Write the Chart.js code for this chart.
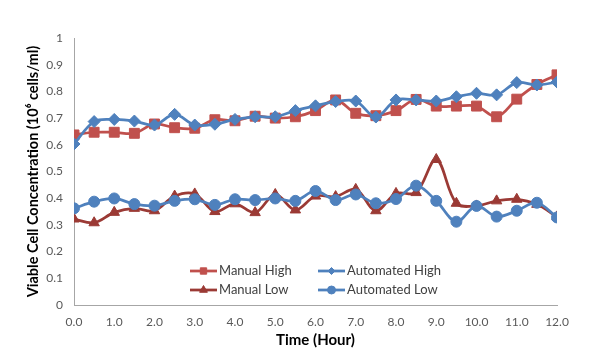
<!DOCTYPE html>
<html>
<head>
<meta charset="utf-8">
<script src="https://cdn.jsdelivr.net/npm/chart.js@4/dist/chart.umd.min.js"></script>
<style>
html,body{margin:0;padding:0;background:#fff;}
#wrap{width:590px;height:359px;}
</style>
</head>
<body>
<div id="wrap"><canvas id="c" width="590" height="359"></canvas></div>
<script>
const times = [0,0.5,1,1.5,2,2.5,3,3.5,4,4.5,5,5.5,6,6.5,7,7.5,8,8.5,9,9.5,10,10.5,11,11.5,12];
const manualHigh = [0.637,0.647,0.647,0.643,0.678,0.664,0.662,0.694,0.690,0.707,0.700,0.705,0.728,0.768,0.718,0.709,0.728,0.770,0.745,0.745,0.745,0.705,0.771,0.826,0.862];
const automatedHigh = [0.603,0.687,0.695,0.689,0.674,0.714,0.674,0.677,0.695,0.705,0.705,0.728,0.746,0.762,0.764,0.704,0.768,0.768,0.764,0.780,0.793,0.787,0.833,0.824,0.835];
const manualLow = [0.322,0.308,0.347,0.362,0.353,0.408,0.416,0.350,0.379,0.346,0.414,0.356,0.408,0.406,0.433,0.353,0.418,0.421,0.545,0.381,0.371,0.390,0.396,0.377,0.330];
const automatedLow = [0.362,0.387,0.399,0.378,0.372,0.390,0.396,0.375,0.396,0.393,0.399,0.390,0.427,0.393,0.414,0.381,0.397,0.447,0.390,0.312,0.371,0.331,0.353,0.383,0.328];
const seriesNames = ['Manual High','Automated High','Manual Low','Automated Low'];
const xTitle = 'Time (Hour)';
const yTitle = 'Viable Cell Concentration (10\u2076 cells/ml)';

const FONT = 'Lato, "Open Sans", sans-serif';
const styles = [
  {color:'#C0504D', pointStyle:'rect', radius:7, legendRadius:4.5, order:4},
  {color:'#4F81BD', pointStyle:'rectRot', radius:6, legendRadius:3.5, order:3},
  {color:'#9B3A35', pointStyle:'triangle', radius:6, legendRadius:4.5, order:2},
  {color:'#4F81BD', pointStyle:'circle', radius:5.5, legendRadius:4, order:1}
];
const seriesData = [manualHigh, automatedHigh, manualLow, automatedLow];

const datasets = seriesData.map((vals, k) => ({
  label: seriesNames[k],
  data: times.map((t, i) => ({x: t, y: vals[i]})),
  borderColor: styles[k].color,
  backgroundColor: styles[k].color,
  pointBackgroundColor: styles[k].color,
  pointBorderColor: styles[k].color,
  pointStyle: styles[k].pointStyle,
  pointRadius: styles[k].radius,
  pointBorderWidth: 1,
  borderWidth: 2.75,
  tension: 0.35,
  order: styles[k].order
}));

const legendPlugin = {
  id: 'customLegend',
  afterDraw(chart) {
    const ctx = chart.ctx;
    const pos = [[190,271],[318,271],[190,290],[318,290]];
    ctx.save();
    seriesNames.forEach((name, k) => {
      const [x, y] = pos[k];
      const st = styles[k];
      ctx.strokeStyle = st.color;
      ctx.fillStyle = st.color;
      ctx.lineWidth = 2.75;
      ctx.beginPath();
      ctx.moveTo(x, y);
      ctx.lineTo(x + 27, y);
      ctx.stroke();
      ctx.lineWidth = 1;
      Chart.helpers.drawPoint(ctx, {pointStyle: st.pointStyle, rotation: 0, radius: st.legendRadius, borderWidth: 1}, x + 13.5, y);
      ctx.fillStyle = '#404040';
      ctx.font = '13px ' + FONT;
      ctx.textBaseline = 'middle';
      ctx.textAlign = 'left';
      ctx.fillText(name, x + 29, y);
    });
    ctx.restore();
  }
};

new Chart(document.getElementById('c'), {
  type: 'line',
  data: {datasets},
  plugins: [legendPlugin],
  options: {
    responsive: false,
    animation: false,
    layout: {padding: {left: 21, right: 33, top: 38, bottom: 0}},
    plugins: {legend: {display: false}, tooltip: {enabled: false}},
    scales: {
      x: {
        type: 'linear',
        min: 0, max: 12,
        grid: {display: false, drawTicks: false},
        border: {display: true, color: '#A6A6A6', width: 1},
        ticks: {
          stepSize: 1, padding: 10, color: '#595959',
          font: {family: FONT, size: 12},
          callback: v => Number(v).toFixed(1),
          maxRotation: 0
        },
        title: {display: true, text: xTitle, color: '#000', font: {family: FONT, size: 15, weight: 'bold'}, padding: {top: 0, bottom: 10}},
        afterFit(scale) { scale.height = 54; }
      },
      y: {
        min: 0, max: 1,
        grid: {display: false, drawTicks: false},
        border: {display: true, color: '#A6A6A6', width: 1},
        ticks: {
          stepSize: 0.1, padding: 11, color: '#595959',
          font: {family: FONT, size: 12},
          callback: v => String(Math.round(v * 10) / 10)
        },
        title: {display: true, text: yTitle, color: '#000', font: {family: FONT, size: 14.5, weight: 'bold'}, padding: {top: 4, bottom: 0}},
        afterFit(scale) { scale.width = 53; }
      }
    }
  }
});
</script>
</body>
</html>
